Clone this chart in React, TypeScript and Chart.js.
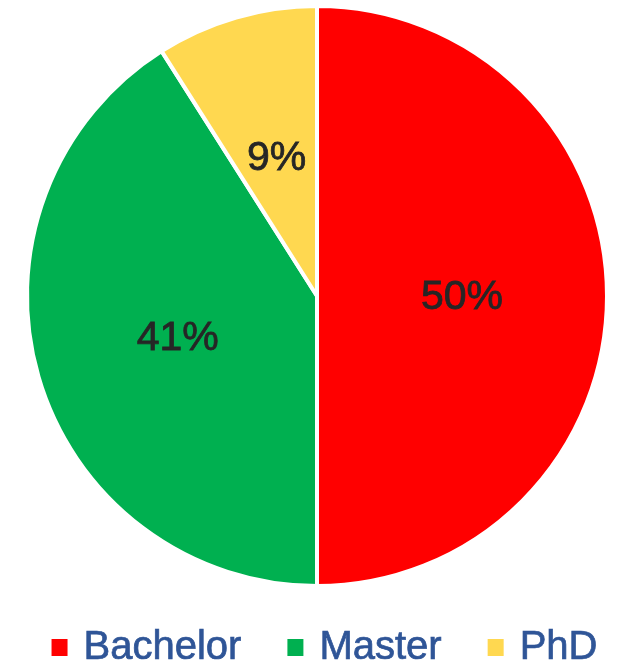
import React, { useEffect, useRef } from "react";
import { Chart, registerables } from "chart.js";

Chart.register(...registerables);

const categories = ["Bachelor", "Master", "PhD"];
const shares = [50, 41, 9];
const sliceColors = ["#FF0000", "#00B050", "#FFD850"];

const FONT = "'Liberation Sans', Arial, sans-serif";

const sliceLabels = {
  id: "sliceLabels",
  afterDatasetsDraw(chart: any) {
    const { ctx } = chart;
    const meta = chart.getDatasetMeta(0);
    ctx.save();
    ctx.font = `41px ${FONT}`;
    ctx.fillStyle = "#262626";
    ctx.strokeStyle = "#262626";
    ctx.lineWidth = 0.8;
    ctx.textAlign = "center";
    ctx.textBaseline = "middle";
    meta.data.forEach((arc: any, i: number) => {
      const p = arc.tooltipPosition();
      ctx.fillText(shares[i] + "%", p.x, p.y + 2);
      ctx.strokeText(shares[i] + "%", p.x, p.y + 2);
    });
    ctx.restore();
  },
};

const bottomLegend = {
  id: "bottomLegend",
  afterDraw(chart: any) {
    const { ctx, height } = chart;
    ctx.save();
    ctx.font = `40px ${FONT}`;
    const box = 16;
    const boxGap = 16;
    const itemGap = 46;
    const widths = categories.map((c) => ctx.measureText(c).width);
    let total = 0;
    widths.forEach((w, i) => {
      total += box + boxGap + w + (i < widths.length - 1 ? itemGap : 0);
    });
    let x = 324.5 - total / 2;
    const baseline = height - 6;
    ctx.textAlign = "left";
    ctx.textBaseline = "alphabetic";
    categories.forEach((c, i) => {
      ctx.fillStyle = sliceColors[i];
      ctx.fillRect(x, baseline - 20, box, 17);
      x += box + boxGap;
      ctx.fillStyle = "#2F5597";
      ctx.strokeStyle = "#2F5597";
      ctx.lineWidth = 0.7;
      ctx.fillText(c, x, baseline);
      ctx.strokeText(c, x, baseline);
      x += widths[i] + itemGap;
    });
    ctx.restore();
  },
};

export default function App() {
  const ref = useRef<HTMLCanvasElement | null>(null);
  useEffect(() => {
    if (!ref.current) return;
    const chart = new Chart(ref.current, {
      type: "pie",
      data: {
        labels: categories,
        datasets: [
          {
            data: shares,
            backgroundColor: sliceColors,
            borderColor: "#FFFFFF",
            borderWidth: 4,
          },
        ],
      },
      options: {
        animation: false,
        responsive: false,
        layout: { padding: { left: 13, top: 4, right: 0, bottom: 77 } },
        plugins: {
          tooltip: { enabled: false },
          legend: { display: false },
        },
      },
      plugins: [sliceLabels, bottomLegend],
    });
    return () => chart.destroy();
  }, []);
  return (
    <div style={{ position: "fixed", left: 0, top: 0, width: 621, height: 665, background: "#fff" }}>
      <canvas ref={ref} width={621} height={665} />
    </div>
  );
}
